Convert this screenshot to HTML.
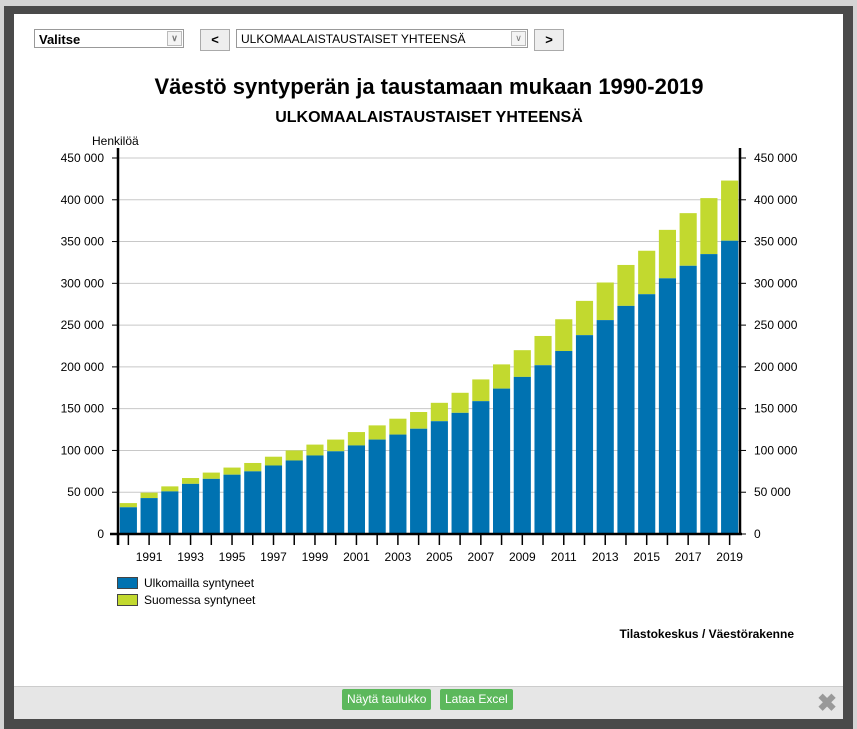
<!DOCTYPE html>
<html><head><meta charset="utf-8"><style>
body{margin:0;width:857px;height:729px;background:#d4d4d4;font-family:"Liberation Sans",sans-serif;position:relative;overflow:hidden}
#frame{position:absolute;left:4px;top:6px;width:849px;height:723px;background:#4a4a4a}
#dlg{position:absolute;left:14px;top:14px;width:829px;height:672px;background:#fff}
#foot{position:absolute;left:14px;top:686px;width:829px;height:32px;background:#e6e6e6;border-top:1px solid #ccc}
.sel{position:absolute;height:19px;border:1px solid #999;background:#fff;font-size:13px;line-height:19px;box-sizing:border-box;padding-left:4px}
.sel .ar{position:absolute;right:1px;top:1px;width:15px;height:15px;border:1px solid #bbb;box-sizing:border-box;background:#f4f4f4;font-size:9px;line-height:13px;text-align:center;color:#777}
.btn{position:absolute;height:22px;width:30px;border:1px solid #aaa;background:#eee;box-sizing:border-box;font-size:13px;font-weight:bold;text-align:center;line-height:20px}
.g{position:absolute;top:689px;height:21px;background:#5cb85c;color:#fff;font-size:12px;line-height:21px;padding:0 5px;border-radius:2px}
</style></head><body>
<div id="frame"></div>
<div id="dlg"></div>
<div id="foot"></div>
<div class="sel" style="left:34px;top:29px;width:150px;font-weight:bold">Valitse<div class="ar">&#8744;</div></div>
<div class="btn" style="left:200px;top:29px">&lt;</div>
<div class="sel" style="left:236px;top:29px;width:292px;font-size:12px">ULKOMAALAISTAUSTAISET YHTEENSÄ<div class="ar">&#8744;</div></div>
<div class="btn" style="left:534px;top:29px">&gt;</div>
<div class="g" style="left:342px">Näytä taulukko</div>
<div class="g" style="left:440px">Lataa Excel</div>
<div style="position:absolute;left:817px;top:689px;font-size:24px;font-weight:bold;color:#999">✖</div>
<svg id="c" width="857" height="729" style="position:absolute;left:0;top:0" font-family="Liberation Sans, sans-serif"></svg>
<script>
var b=[32,43,51,60,66,71,75,82,88,94,99,106,113,119,126,135,145,159,174,188,202,219,238,256,273,287,306,321,335,351];
var t=[37,49.5,57,67,73.5,79.5,85,92.5,100,107,113,122,130,138,146,157,169,185,203,220,237,257,279,301,322,339,364,384,402,423];
var s='';var y0=534,k=(534-158)/450,x0=118,w=622/30;
s+='<text x="429" y="94" text-anchor="middle" font-size="22" font-weight="bold">Väestö syntyperän ja taustamaan mukaan 1990-2019</text>';
s+='<text x="429" y="122" text-anchor="middle" font-size="16" font-weight="bold">ULKOMAALAISTAUSTAISET YHTEENSÄ</text>';
s+='<text x="92" y="145" font-size="12">Henkilöä</text>';
for(var i=0;i<=9;i++){var y=y0-i*50*k;var l=i?(i*50)+' 000':'0';
if(i)s+='<line x1="118" x2="740" y1="'+y+'" y2="'+y+'" stroke="#c8c8c8"/>';
s+='<line x1="112" x2="118" y1="'+y+'" y2="'+y+'" stroke="#000"/><line x1="740" x2="746" y1="'+y+'" y2="'+y+'" stroke="#000"/>';
s+='<text x="104" y="'+(y+4)+'" text-anchor="end" font-size="12">'+l+'</text><text x="754" y="'+(y+4)+'" font-size="12">'+l+'</text>';}
for(var j=0;j<30;j++){var x=x0+j*w+1.8,bw=w-3.6;
s+='<rect x="'+x+'" y="'+(y0-t[j]*k)+'" width="'+bw+'" height="'+((t[j]-b[j])*k)+'" fill="#c2d92f"/>';
s+='<rect x="'+x+'" y="'+(y0-b[j]*k)+'" width="'+bw+'" height="'+(b[j]*k)+'" fill="#0072b1"/>';
var cx=x0+(j+.5)*w;s+='<line x1="'+cx+'" x2="'+cx+'" y1="534" y2="545" stroke="#000" stroke-width="1.5"/>';
if(j%2==1)s+='<text x="'+cx+'" y="561" text-anchor="middle" font-size="12">'+(1990+j)+'</text>';}
s+='<line x1="118" x2="118" y1="148" y2="545" stroke="#000" stroke-width="2.5"/><line x1="740" x2="740" y1="148" y2="534" stroke="#000" stroke-width="2.5"/>';
s+='<line x1="110" x2="742" y1="534" y2="534" stroke="#000" stroke-width="2.5"/>';
s+='<rect x="117.5" y="577.5" width="20" height="11" fill="#0072b1" stroke="#444"/><text x="144" y="587" font-size="12">Ulkomailla syntyneet</text>';
s+='<rect x="117.5" y="594.5" width="20" height="11" fill="#c2d92f" stroke="#444"/><text x="144" y="604" font-size="12">Suomessa syntyneet</text>';
s+='<text x="794" y="638" text-anchor="end" font-size="12" font-weight="bold">Tilastokeskus / Väestörakenne</text>';
document.getElementById('c').innerHTML=s;
</script>
</body></html>
